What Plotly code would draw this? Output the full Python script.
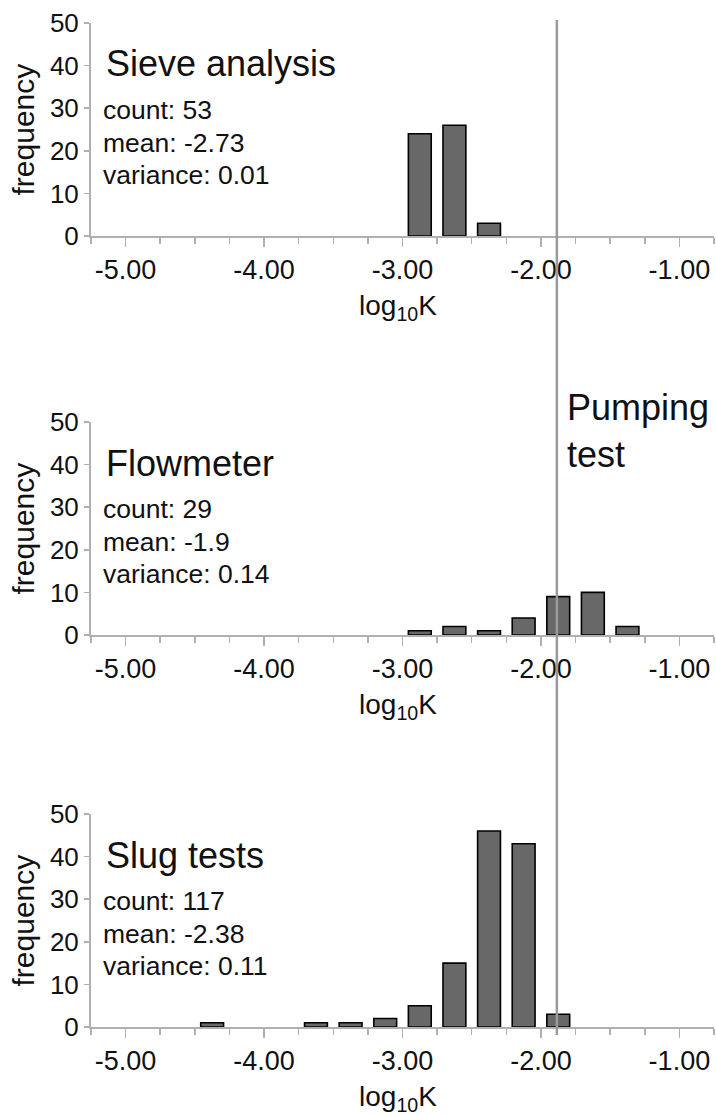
import plotly.graph_objects as go

# ---------------- data ----------------
BIN_CENTERS = [-5.125, -4.875, -4.625, -4.375, -4.125, -3.875, -3.625, -3.375, -3.125,
               -2.875, -2.625, -2.375, -2.125, -1.875, -1.625, -1.375, -1.125, -0.875]
SIEVE_FREQ = [0, 0, 0, 0, 0, 0, 0, 0, 0, 24, 26, 3, 0, 0, 0, 0, 0, 0]
FLOW_FREQ  = [0, 0, 0, 0, 0, 0, 0, 0, 0, 1, 2, 1, 4, 9, 10, 2, 0, 0]
SLUG_FREQ  = [0, 0, 0, 1, 0, 0, 1, 1, 2, 5, 15, 46, 43, 3, 0, 0, 0, 0]

PANEL_NAMES = ["Sieve analysis", "Flowmeter", "Slug tests"]
PANEL_STATS = [
    ["count: 53", "mean: -2.73", "variance: 0.01"],
    ["count: 29", "mean: -1.9", "variance: 0.14"],
    ["count: 117", "mean: -2.38", "variance: 0.11"],
]
PUMPING_TEST_LOGK = -1.885
PUMPING_LABEL = ["Pumping", "test"]

X_TICK_VALUES = [-5, -4, -3, -2, -1]
X_TICK_LABELS = ["-5.00", "-4.00", "-3.00", "-2.00", "-1.00"]
Y_TICK_VALUES = [0, 10, 20, 30, 40, 50]
Y_TICK_LABELS = ["0", "10", "20", "30", "40", "50"]

# ---------------- layout geometry (pixels, in the 716x1115 page) ----------------
W, H = 716, 1115
AX_LEFT, AX_RIGHT = 91, 714
ML = AX_LEFT
MR = W - AX_RIGHT
PANEL_TOPS = [23, 422, 814]
PANEL_H = 213
PW = W - ML - MR

FONT = "Liberation Sans, Arial, sans-serif"
TXT = "#111111"
AXIS_COLOR = "#b0b0b0"


def py(px):
    return (H - px) / H


def pxx(px):
    return (px - ML) / PW


fig = go.Figure()
series = [SIEVE_FREQ, FLOW_FREQ, SLUG_FREQ]
annotations = []

for i, freq in enumerate(series):
    xs = [c for c, f in zip(BIN_CENTERS, freq) if f > 0]
    ys = [f for f in freq if f > 0]
    xa = "x" if i == 0 else f"x{i+1}"
    ya = "y" if i == 0 else f"y{i+1}"
    fig.add_trace(go.Bar(
        x=xs, y=ys, xaxis=xa, yaxis=ya, width=0.165,
        marker=dict(color="#686868", line=dict(color="#000000", width=1.6)),
        showlegend=False, hoverinfo="x+y",
    ))
    top = PANEL_TOPS[i]
    bottom = top + PANEL_H
    axis_suffix = "" if i == 0 else str(i + 1)
    fig.update_layout(**{
        f"xaxis{axis_suffix}": dict(
            domain=[0, 1], anchor=ya, range=[-5.25, -0.75], automargin=False,
            tickmode="array", tickvals=X_TICK_VALUES, ticktext=X_TICK_LABELS,
            ticks="outside", ticklen=9, tickwidth=1.5, tickcolor=AXIS_COLOR,
            minor=dict(tickmode="linear", tick0=-5, dtick=0.25, ticks="outside",
                       ticklen=6, tickwidth=1.5, tickcolor=AXIS_COLOR, showgrid=False),
            showline=True, linecolor=AXIS_COLOR, linewidth=2,
            showgrid=False, zeroline=False, ticklabeloverflow="allow",
            tickfont=dict(family=FONT, size=27, color=TXT),
            fixedrange=True,
        ),
        f"yaxis{axis_suffix}": dict(
            domain=[py(bottom), py(top)], anchor=xa, range=[0, 50], automargin=False,
            tickmode="array", tickvals=Y_TICK_VALUES, ticktext=Y_TICK_LABELS,
            ticks="outside", ticklen=5, tickwidth=1.5, tickcolor=AXIS_COLOR,
            showline=True, linecolor=AXIS_COLOR, linewidth=2,
            showgrid=False, zeroline=False,
            tickfont=dict(family=FONT, size=26, color=TXT),
            fixedrange=True,
        ),
    })
    # panel title
    annotations.append(dict(
        text=PANEL_NAMES[i], xref="paper", yref="paper",
        x=pxx(104), y=py(top + 41), xanchor="left", yanchor="middle",
        showarrow=False, font=dict(family=FONT, size=36, color=TXT)))
    for j, s in enumerate(PANEL_STATS[i]):
        annotations.append(dict(
            text=s, xref="paper", yref="paper",
            x=pxx(101), y=py(top + 87 + 32.5 * j), xanchor="left", yanchor="middle",
            showarrow=False, font=dict(family=FONT, size=26.5, color=TXT)))
    # y title
    annotations.append(dict(
        text="frequency", xref="paper", yref="paper", textangle=-90,
        x=pxx(23), y=py(top + PANEL_H / 2), xanchor="center", yanchor="middle",
        showarrow=False, font=dict(family=FONT, size=30, color=TXT)))
    # x title
    annotations.append(dict(
        text="log<sub>10</sub>K", xref="paper", yref="paper",
        x=pxx(398), y=py(bottom + 52), xanchor="center", yanchor="top",
        showarrow=False, font=dict(family=FONT, size=28, color=TXT)))

# pumping test label
for j, s in enumerate(PUMPING_LABEL):
    annotations.append(dict(
        text=s, xref="paper", yref="paper",
        x=pxx(565), y=py(407.5 + 47 * j), xanchor="left", yanchor="middle",
        showarrow=False, font=dict(family=FONT, size=36, color=TXT)))

fig.add_shape(type="line", xref="x", yref="paper",
              x0=PUMPING_TEST_LOGK, x1=PUMPING_TEST_LOGK, y0=py(1035), y1=py(20),
              line=dict(color="#9a9a9a", width=2.5), layer="above")

fig.update_layout(
    template="none",
    width=W, height=H,
    margin=dict(l=ML, r=MR, t=0, b=0, autoexpand=False),
    paper_bgcolor="white", plot_bgcolor="white",
    annotations=annotations, bargap=0,
    font=dict(family=FONT, color=TXT),
)

fig.write_html(
    "out.html",
    config={"displayModeBar": False, "staticPlot": True},
    post_script="document.body.style.margin='0px';document.body.style.overflow='hidden';",
)
